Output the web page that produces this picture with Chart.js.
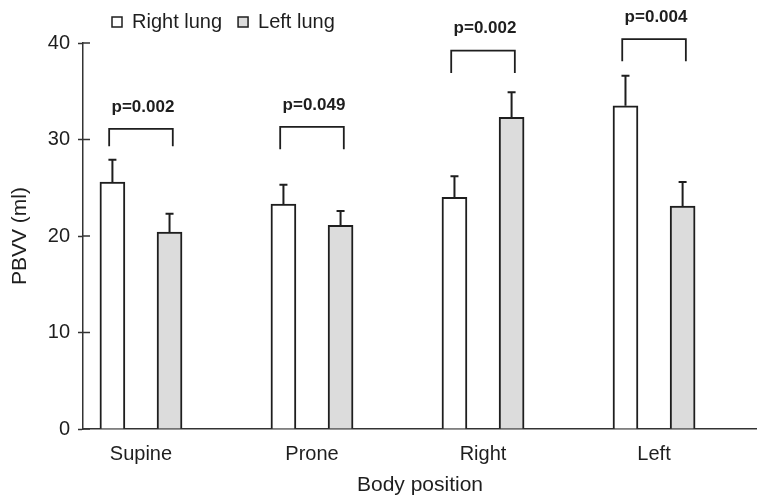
<!DOCTYPE html>
<html>
<head>
<meta charset="utf-8">
<script src="https://cdn.jsdelivr.net/npm/chart.js@4.4.0/dist/chart.umd.min.js"></script>
<style>
  html, body { margin: 0; padding: 0; background: #fff; }
  #wrap { width: 757px; height: 498px; }
</style>
</head>
<body>
<div id="wrap"><canvas id="pbvvChart"></canvas></div>
<script>
// Body positions and mean PBVV (ml) +/- SD
const positions = ["Supine", "Prone", "Right", "Left"];
const rightLung = [25.6, 23.3, 24.0, 33.5];
const rightLungSD = [2.3, 2.0, 2.2, 3.1];
const leftLung = [20.4, 21.1, 32.3, 23.1];
const leftLungSD = [1.9, 1.5, 2.6, 2.5];
const yTicks = [0, 10, 20, 30, 40];

// significance brackets (in ml units)
const pLabels = ["p=0.002", "p=0.049", "p=0.002", "p=0.004"];
const bracketTop = [31.1, 31.3, 39.2, 40.4];
const bracketLegEnd = [29.3, 29.0, 36.9, 38.1];

const ink = "#1e1e1e";
const font = "'Liberation Sans', Arial, sans-serif";
const pairOffset = 0.167; // each bar sits this far either side of its position

Chart.defaults.font.family = font;
Chart.defaults.color = ink;

function toPoints(values, shift) {
  return values.map((v, i) => ({ x: i + 1 + shift, y: v }));
}

// upward-only error bars with a small cap
const errorBars = {
  id: "errorBars",
  afterDatasetsDraw(chart) {
    const ctx = chart.ctx;
    const y = chart.scales.y;
    ctx.save();
    ctx.strokeStyle = ink;
    ctx.lineWidth = 2;
    chart.data.datasets.forEach((ds, di) => {
      chart.getDatasetMeta(di).data.forEach((bar, i) => {
        const top = y.getPixelForValue(ds.data[i].y + ds.sd[i]);
        ctx.beginPath();
        ctx.moveTo(bar.x, bar.y);
        ctx.lineTo(bar.x, top);
        ctx.moveTo(bar.x - 4, top);
        ctx.lineTo(bar.x + 4, top);
        ctx.stroke();
      });
    });
    ctx.restore();
  }
};

// brackets with p values above each pair
const brackets = {
  id: "brackets",
  afterDraw(chart) {
    const { ctx, scales: { x, y } } = chart;
    ctx.save();
    ctx.strokeStyle = ink;
    ctx.lineWidth = 1.8;
    ctx.fillStyle = ink;
    ctx.font = "bold 17px " + font;
    ctx.textAlign = "center";
    ctx.textBaseline = "middle";
    positions.forEach((p, i) => {
      const x0 = x.getPixelForValue(i + 1 - 0.186);
      const x1 = x.getPixelForValue(i + 1 + 0.186);
      const top = y.getPixelForValue(bracketTop[i]);
      const leg = y.getPixelForValue(bracketLegEnd[i]);
      ctx.beginPath();
      ctx.moveTo(x0, leg);
      ctx.lineTo(x0, top);
      ctx.lineTo(x1, top);
      ctx.lineTo(x1, leg);
      ctx.stroke();
      ctx.fillText(pLabels[i], (x0 + x1) / 2 + 2, top - 22);
    });
    ctx.restore();
  }
};

// y ticks cross the axis line
const innerTicks = {
  id: "innerTicks",
  afterDraw(chart) {
    const { ctx, scales: { y } } = chart;
    ctx.save();
    ctx.strokeStyle = "#333";
    ctx.lineWidth = 1.5;
    y.ticks.forEach(t => {
      const py = y.getPixelForValue(t.value);
      ctx.beginPath();
      ctx.moveTo(y.right, py);
      ctx.lineTo(y.right + 7, py);
      ctx.stroke();
    });
    ctx.restore();
  }
};

// small legend above the plot, left side
const topLegend = {
  id: "topLegend",
  afterDraw(chart) {
    const ctx = chart.ctx;
    ctx.save();
    ctx.font = "20px " + font;
    ctx.textBaseline = "middle";
    let cx = 112;
    chart.data.datasets.forEach(ds => {
      ctx.fillStyle = ds.backgroundColor;
      ctx.fillRect(cx, 17, 10, 10);
      ctx.strokeStyle = ink;
      ctx.lineWidth = 1.5;
      ctx.strokeRect(cx, 17, 10, 10);
      ctx.fillStyle = ink;
      ctx.fillText(ds.label, cx + 20, 22);
      cx += 20 + ctx.measureText(ds.label).width + 16;
    });
    ctx.restore();
  }
};

new Chart(document.getElementById("pbvvChart"), {
  type: "bar",
  data: {
    datasets: [
      {
        label: "Right lung",
        data: toPoints(rightLung, -pairOffset),
        sd: rightLungSD,
        backgroundColor: "#ffffff",
        borderColor: ink,
        borderWidth: 2,
      },
      {
        label: "Left lung",
        data: toPoints(leftLung, pairOffset),
        sd: leftLungSD,
        backgroundColor: "#dcdcdc",
        borderColor: ink,
        borderWidth: 2,
      },
    ],
  },
  options: {
    responsive: true,
    maintainAspectRatio: false,
    animation: false,
    grouped: false,
    barThickness: 25,
    layout: { padding: { top: 43, left: 0, right: 0, bottom: 0 } },
    plugins: {
      legend: { display: false },
      tooltip: { enabled: false },
    },
    scales: {
      x: {
        type: "linear",
        offset: false,
        min: 0.661,
        max: 4.602,
        afterBuildTicks: scale => {
          scale.ticks = positions.map((p, i) => ({ value: i + 1 }));
        },
        afterFit: scale => { scale.height = 69; },
        ticks: {
          callback: v => positions[v - 1],
          autoSkip: false,
          maxRotation: 0,
          padding: 13,
          font: { size: 20 },
        },
        grid: { display: true, drawOnChartArea: false, drawTicks: false },
        border: { display: true, color: "#333", width: 1.5 },
        title: {
          display: true,
          text: "Body position",
          font: { size: 21 },
          padding: { top: 7, bottom: 0 },
        },
      },
      y: {
        min: 0,
        max: 40,
        afterBuildTicks: scale => {
          scale.ticks = yTicks.map(v => ({ value: v }));
        },
        afterFit: scale => { scale.width = 83; },
        ticks: { padding: 8, font: { size: 20 } },
        grid: {
          drawOnChartArea: false,
          drawTicks: true,
          tickLength: 5,
          tickColor: "#333",
          tickWidth: 1.5,
        },
        border: { display: true, color: "#333", width: 1.5 },
        title: {
          display: true,
          text: "PBVV (ml)",
          font: { size: 21 },
          padding: { top: 8, bottom: 0 },
        },
      },
    },
  },
  plugins: [errorBars, brackets, innerTicks, topLegend],
});
</script>
</body>
</html>
